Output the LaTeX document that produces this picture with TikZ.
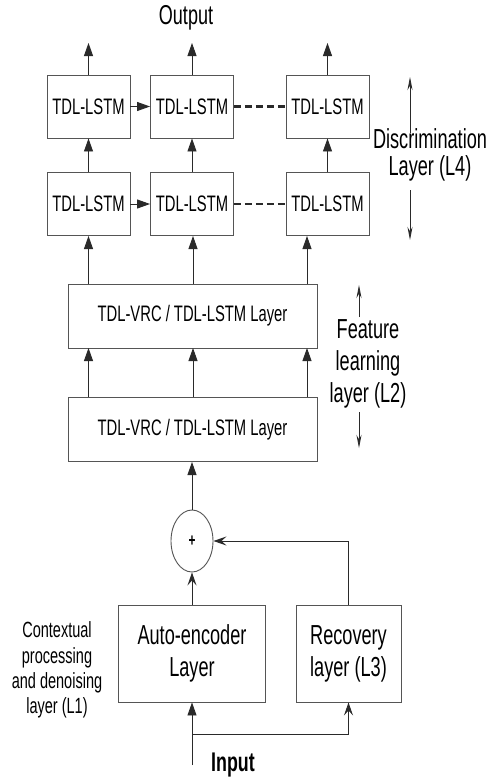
\documentclass[tikz,border=0pt]{standalone}
\usepackage{fontspec}
\setmainfont{Liberation Sans}[FakeStretch=0.66]
\usetikzlibrary{arrows.meta,shapes.geometric}
\definecolor{boxgray}{HTML}{555555}
\definecolor{linegray}{HTML}{2A2A2A}
\begin{document}
\begin{tikzpicture}[x=1pt,y=-1pt,
  box/.style={draw=boxgray, line width=0.9pt, fill=white, inner sep=0pt, align=center},
  tdl/.style={box, minimum width=83pt, minimum height=63pt, font=\fontsize{22.4}{26}\selectfont},
  wide/.style={box, minimum width=249pt, minimum height=64pt, font=\fontsize{22.4}{26}\selectfont},
  big/.style={box, minimum height=97pt, font=\fontsize{27.5}{32}\selectfont},
  lbl/.style={inner sep=0pt, align=center, font=\fontsize{27.5}{26}\selectfont},
  arr/.style={draw=linegray, line width=0.9pt, -{Triangle[width=9pt,length=13pt]}},
  sarr/.style={draw=linegray, line width=0.9pt, -{Stealth[width=9pt,length=13pt,inset=5pt]}},
  larr/.style={draw=linegray, line width=0.8pt, -{Stealth[width=5pt,length=13pt]}},
  dashline/.style={draw=linegray, line width=2.6pt, dash pattern=on 7pt off 4pt}
]
\useasboundingbox (0,0) rectangle (496,780);
\fill[white] (0,0) rectangle (496,780);

% discrimination layer
\node[tdl] (T1) at (88.5,106.5) {TDL-LSTM};
\node[tdl] (T2) at (192,106.5) {TDL-LSTM};
\node[tdl] (T3) at (327.5,106.5) {TDL-LSTM};
\node[tdl] (B1) at (88.5,204) {TDL-LSTM};
\node[tdl] (B2) at (192,204) {TDL-LSTM};
\node[tdl] (B3) at (327.5,204) {TDL-LSTM};

\node[inner sep=0pt, font=\fontsize{27.3}{30}\selectfont] (out) at (186,18) {Output};
\coordinate (o1) at (88.5,43);
\coordinate (o2) at (192,43);
\coordinate (o3) at (327.5,43);
\draw[arr] (T1.north) -- (o1);
\draw[arr] (T2.north) -- (o2);
\draw[arr] (T3.north) -- (o3);

\draw[arr] (T1) -- (T2);
\draw[arr] (B1) -- (B2);
\draw[dashline] (T2.east) -- (T3.west);
\draw[dashline] (B2.east) -- (B3.west);

\draw[arr] (B1) -- (T1);
\draw[arr] (B2) -- (T2);
\draw[arr] (B3) -- (T3);

% feature learning layer
\node[wide] (L2a) at (192.5,316) {TDL-VRC / TDL-LSTM Layer};
\node[wide] (L2b) at (192.5,429.5) {TDL-VRC / TDL-LSTM Layer};

\coordinate (a1) at (88.5,284);
\coordinate (a2) at (193,284);
\coordinate (a3) at (307,284);
\coordinate (c1) at (88.5,236);
\coordinate (c2) at (193,236);
\coordinate (c3) at (307,236);
\coordinate (e1) at (88.5,397);
\coordinate (e2) at (193,397);
\coordinate (e3) at (307,397);
\coordinate (g1) at (88.5,348);
\coordinate (g2) at (193,348);
\coordinate (g3) at (307,348);
\draw[arr] (a1) -- (c1);
\draw[arr] (a2) -- (c2);
\draw[arr] (a3) -- (c3);
\draw[arr] (e1) -- (g1);
\draw[arr] (e2) -- (g2);
\draw[arr] (e3) -- (g3);

% side labels
\node[lbl, font=\fontsize{27.5}{27}\selectfont] (disc) at (430,155) {Discrimination\\Layer (L4)};
\coordinate (d1) at (410,133);
\coordinate (d2) at (410,77);
\coordinate (d3) at (410,190);
\coordinate (d4) at (410,240);
\draw[larr] (d1) -- (d2);
\draw[larr] (d3) -- (d4);

\node[lbl, font=\fontsize{27.5}{32}\selectfont] (feat) at (368,364) {Feature\\learning\\layer (L2)};
\coordinate (f1) at (359,317);
\coordinate (f2) at (359,285);
\coordinate (f3) at (359,412);
\coordinate (f4) at (359,448);
\draw[larr] (f1) -- (f2);
\draw[larr] (f3) -- (f4);

% bottom
\node[ellipse, draw=boxgray, line width=0.9pt, minimum width=42pt, minimum height=62pt, inner sep=0pt,
      font=\bfseries\fontsize{18}{18}\selectfont] (sum) at (192,541) {+};
\coordinate (s2) at (192,462);
\draw[arr] (sum.north) -- (s2);

\node[big, minimum width=147pt] (AE) at (192,653.5) {Auto-encoder\\Layer};
\node[big, minimum width=105pt] (R) at (348.5,653.5) {Recovery\\layer (L3)};

\draw[sarr] (AE.north) -- (sum.south);
\draw[sarr] (R.north) |- (sum.east);

\coordinate (in) at (192,765);
\coordinate (br) at (192,734);
\draw[arr] (in) -- (AE.south);
\draw[sarr] (br) -| (R.south);
\node[inner sep=0pt, anchor=west, font=\bfseries\fontsize{27}{30}\selectfont] (inlbl) at (211,765) {Input};

\node[inner sep=0pt, align=center, font=\fontsize{22}{25.3}\selectfont] (ctx) at (57,670) {Contextual\\processing\\and denoising\\layer (L1)};
\end{tikzpicture}
\end{document}
